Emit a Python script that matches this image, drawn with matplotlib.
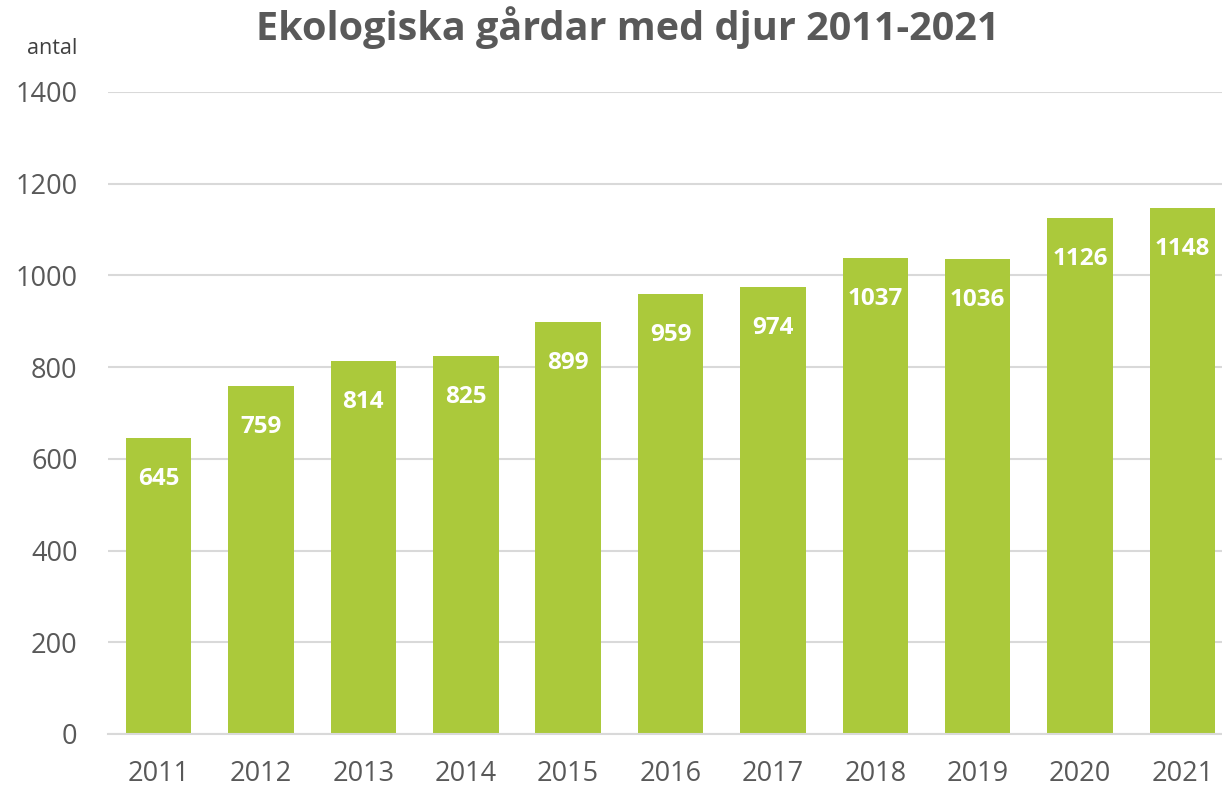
"""Ekologiska gårdar med djur 2011-2021, bar chart."""
import matplotlib

matplotlib.use("Agg")
import matplotlib.pyplot as plt

plt.rcParams["font.family"] = ["Open Sans", "DejaVu Sans"]

years = ["2011", "2012", "2013", "2014", "2015", "2016",
         "2017", "2018", "2019", "2020", "2021"]
farms = [645, 759, 814, 825, 899, 959, 974, 1037, 1036, 1126, 1148]

BAR_COLOR = "#abc93b"
TEXT_COLOR = "#595959"
GRID_COLOR = "#d9d9d9"

W, H = 1222, 786
fig = plt.figure(figsize=(W / 100, H / 100), dpi=100)
ax = fig.add_axes([108 / W, 52 / H, (W - 108) / W, 642 / H])

x = list(range(len(years)))
bars = ax.bar(x, farms, width=0.64, color=BAR_COLOR, zorder=2)

for rect, val in zip(bars, farms):
    ax.annotate(str(val), (rect.get_x() + rect.get_width() / 2, val),
                xytext=(0, -29.5), textcoords="offset points",
                ha="center", va="center", color="white",
                fontsize=17.5, fontweight="bold")

ax.set_xlim(-0.494, 10.386)
ax.set_ylim(0, 1400)
ax.set_yticks(range(0, 1401, 200))
ax.set_xticks(x)
ax.set_xticklabels(years)

ax.yaxis.grid(True, color=GRID_COLOR, linewidth=1.5)
ax.set_axisbelow(True)
for side in ["top", "right", "left"]:
    ax.spines[side].set_visible(False)
ax.spines["bottom"].set_color(GRID_COLOR)
ax.spines["bottom"].set_linewidth(1.5)
ax.tick_params(axis="both", length=0, colors=TEXT_COLOR, labelsize=19.5)
ax.tick_params(axis="y", pad=22)
ax.tick_params(axis="x", pad=19)

fig.text(628 / W, 1 - 28 / H, "Ekologiska gårdar med djur 2011-2021",
         ha="center", va="center", fontsize=28.5, fontweight="bold",
         color=TEXT_COLOR)
fig.text(77 / W, 1 - 48 / H, "antal", ha="right", va="center",
         fontsize=15.5, color="#404040")

fig.savefig("out.png", dpi=100)
plt.close(fig)
